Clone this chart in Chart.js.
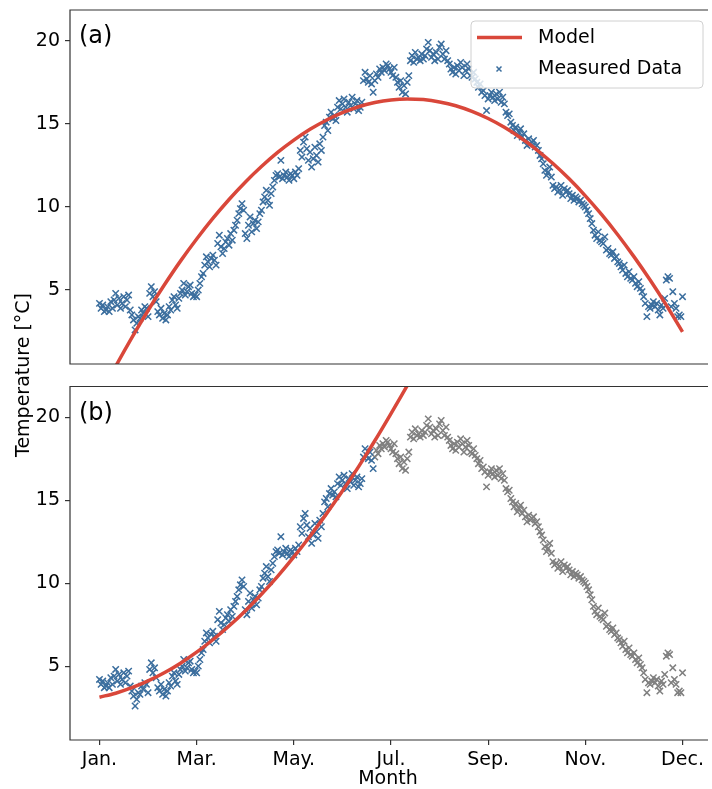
<!DOCTYPE html>
<html>
<head>
<meta charset="utf-8">
<script src="https://cdn.jsdelivr.net/npm/chart.js@4.4.0/dist/chart.umd.min.js"></script>
<style>
  body { margin: 0; background: #fff; }
  #wrap { position: relative; width: 712px; height: 789px; overflow: hidden; }
  #chartA { position: absolute; left: 0; top: 0; }
  #chartB { position: absolute; left: 0; top: 375px; }
  #ylabel {
    position: absolute; left: 22px; top: 375px;
    transform: translate(-50%, -50%) rotate(-90deg);
    font: 19px "DejaVu Sans"; color: #000; white-space: nowrap;
  }
</style>
</head>
<body>
<div id="wrap">
  <canvas id="chartA" width="712" height="375"></canvas>
  <canvas id="chartB" width="712" height="414"></canvas>
  <div id="ylabel">Temperature [°C]</div>
</div>
<script>
// Daily measured temperatures, day 0 .. day 360
const measured = [
  4.2, 3.9, 4.1, 3.7, 3.8, 4.0, 3.7, 4.3, 3.9, 4.4,
  4.8, 4.1, 4.5, 3.9, 4.2, 4.6, 4.0, 4.4, 4.7, 3.8,
  3.5, 3.2, 2.6, 3.0, 3.4, 3.3, 3.8, 3.6, 4.0, 3.9,
  3.4, 4.8, 5.2, 4.6, 4.9, 4.3, 3.7, 3.5, 3.9, 3.3,
  3.6, 3.2, 3.5, 4.0, 3.8, 4.4, 4.6, 4.1, 3.9, 4.5,
  4.8, 5.0, 5.4, 4.7, 4.9, 5.2, 5.3, 4.8, 4.6, 4.7,
  4.6, 5.0, 5.4, 5.8, 6.0, 6.5, 7.0, 6.7, 6.4, 6.9,
  7.1, 6.8, 6.5, 7.8, 8.3, 7.6, 7.2, 7.5, 7.9, 8.1,
  7.7, 8.4, 8.0, 8.6, 8.9, 9.2, 9.6, 9.9, 10.2, 9.8,
  8.4, 8.1, 8.9, 9.4, 8.5, 9.0, 9.2, 8.7, 9.1, 9.6,
  9.8, 10.3, 10.6, 11.0, 10.4, 10.1, 10.8, 11.2, 11.6, 11.9,
  12.0, 11.8, 12.8, 11.7, 11.9, 12.1, 11.8, 11.6, 12.0, 11.9,
  11.7, 12.1, 11.9, 12.3, 13.4, 13.0, 13.9, 14.2, 13.5, 12.8,
  13.3, 12.4, 12.9, 13.6, 13.1, 12.7, 13.8, 13.4, 14.2, 14.9,
  15.1, 14.6, 15.4, 15.7, 15.3, 15.5, 15.2, 16.0, 16.4, 15.9,
  16.2, 16.5, 16.0, 15.7, 16.3, 16.1, 16.6, 15.9, 16.2, 16.4,
  15.8, 16.0, 16.3, 17.6, 18.1, 17.7, 17.5, 17.9, 17.4, 16.9,
  17.6, 18.0, 17.8, 18.3, 18.1, 18.4, 18.2, 18.6, 18.5, 18.3,
  18.1, 17.9, 18.4, 17.8, 17.5, 17.2, 17.6, 16.9, 17.3, 16.8,
  17.5, 17.9, 18.8, 19.1, 18.7, 19.3, 18.9, 19.0, 18.8, 19.2,
  18.9, 19.1, 19.5, 19.9, 19.4, 19.0, 19.2, 18.8, 19.3, 18.9,
  19.6, 19.8, 19.2, 18.9, 19.4, 18.8, 18.6, 18.3, 18.1, 18.4,
  18.0, 18.5, 18.2, 18.7, 18.4, 17.9, 18.2, 18.6, 18.3, 17.9,
  17.8, 18.1, 17.7, 17.5, 17.2, 17.4, 16.9, 17.0, 16.7, 15.8,
  16.5, 16.7, 16.9, 16.6, 16.4, 16.8, 16.5, 16.9, 16.3, 16.6,
  16.2, 15.7, 15.5, 15.6, 15.1, 14.9, 14.6, 14.8, 14.3, 14.5,
  14.7, 14.2, 14.4, 14.0, 13.7, 14.1, 13.8, 13.9, 14.0, 13.6,
  13.7, 13.4, 13.1, 12.9, 12.6, 12.2, 11.9, 12.1, 12.4, 11.8,
  11.3, 11.1, 11.2, 10.9, 11.0, 11.3, 10.7, 11.1, 10.9, 11.0,
  10.8, 10.5, 10.7, 10.4, 10.6, 10.5, 10.3, 10.4, 10.2, 10.1,
  10.0, 9.8, 9.6, 9.3, 9.0, 8.6, 8.3, 8.1, 8.5, 8.0,
  7.9, 7.8, 8.2, 7.4, 7.5, 7.2, 7.1, 7.3, 6.9, 7.0,
  6.7, 6.6, 6.4, 6.2, 6.5, 6.0, 5.8, 6.1, 5.7, 5.6,
  5.8, 5.4, 5.2, 5.5, 5.1, 4.9, 4.6, 4.2, 3.4, 4.0,
  3.9, 4.1, 4.3, 4.0, 4.2, 3.8, 3.5, 4.1, 3.9, 4.5,
  5.6, 5.8, 5.7, 4.0, 4.9, 4.2, 3.9, 3.4, 3.5, 3.4,
  4.6
];

// days used for the fit in panel (b)
const fitEndDay = 170;

const modelDays = [0, 10, 20, 30, 40, 50, 60, 70, 80, 90, 100, 110, 120, 130, 140, 150, 160, 170, 180,
  190, 200, 210, 220, 230, 240, 250, 260, 270, 280, 290, 300, 310, 320, 330, 340, 350, 360];
const modelA = [-1.41, 0.41, 2.14, 3.77, 5.30, 6.74, 8.07, 9.31, 10.45, 11.49, 12.43, 13.28, 14.02, 14.67,
  15.22, 15.67, 16.03, 16.28, 16.44, 16.50, 16.46, 16.32, 16.09, 15.75, 15.32, 14.79, 14.16, 13.44,
  12.61, 11.69, 10.67, 9.55, 8.33, 7.01, 5.60, 4.09, 2.48];
const modelBDays = [0, 10, 20, 30, 40, 50, 60, 70, 80, 90, 100, 110, 120, 130, 140, 150, 160, 170, 180, 190, 200];
const modelB = [3.13, 3.37, 3.70, 4.11, 4.60, 5.18, 5.84, 6.59, 7.42, 8.33, 9.33, 10.41, 11.58, 12.83,
  14.16, 15.55, 17.02, 18.58, 20.22, 21.90, 23.65];

// axes
const tickDays = [0, 60, 120, 180, 240, 300, 360];
const tickLabels = ['Jan.', 'Mar.', 'May.', 'Jul.', 'Sep.', 'Nov.', 'Dec.'];
const yTicks = [5, 10, 15, 20];

const blue = '#3b6e9e';
const red = '#d9473a';
const grey = '#808080';
const font = 'DejaVu Sans';

Chart.defaults.font.family = font;
Chart.defaults.animation = false;

const pts = (xs, ys) => xs.map((x, i) => ({ x: x, y: ys[i] }));
const allPts = measured.map((v, d) => ({ x: d, y: v }));

function frame(letter) {
  return {
    id: 'frame' + letter,
    afterDatasetsDraw(chart) {
      const { ctx, chartArea: a } = chart;
      ctx.save();
      ctx.strokeStyle = '#333';
      ctx.lineWidth = 1.2;
      ctx.beginPath();
      ctx.moveTo(a.right + 2, a.top);
      ctx.lineTo(a.left, a.top);
      ctx.lineTo(a.left, a.bottom);
      ctx.lineTo(a.right + 2, a.bottom);
      ctx.stroke();
      ctx.fillStyle = '#000';
      ctx.font = '24px "' + font + '"';
      ctx.textBaseline = 'middle';
      ctx.fillText(letter, a.left + 9, a.top + 27);
      ctx.restore();
    }
  };
}

const legendBox = {
  id: 'legendBox',
  afterDraw(chart) {
    const ctx = chart.ctx;
    ctx.save();
    ctx.beginPath();
    ctx.roundRect(471, 21, 232, 67, 4);
    ctx.fillStyle = 'rgba(255,255,255,0.8)';
    ctx.fill();
    ctx.strokeStyle = '#d0d0d0';
    ctx.lineWidth = 1;
    ctx.stroke();
    ctx.strokeStyle = red;
    ctx.lineWidth = 3.5;
    ctx.beginPath();
    ctx.moveTo(477, 37.5);
    ctx.lineTo(522, 37.5);
    ctx.stroke();
    ctx.strokeStyle = blue;
    ctx.lineWidth = 1.5;
    ctx.beginPath();
    ctx.moveTo(496.5, 66.5); ctx.lineTo(501.5, 71.5);
    ctx.moveTo(501.5, 66.5); ctx.lineTo(496.5, 71.5);
    ctx.stroke();
    ctx.fillStyle = '#000';
    ctx.font = '19px "' + font + '"';
    ctx.textBaseline = 'middle';
    ctx.fillText('Model', 538, 38);
    ctx.fillText('Measured Data', 538, 69);
    ctx.restore();
  }
};

function yScale() {
  return {
    min: 0.55, max: 21.85,
    afterBuildTicks: s => { s.ticks = yTicks.map(v => ({ value: v })); },
    afterFit: s => { s.width = 70; s.paddingTop = 0; s.paddingBottom = 0; },
    grid: { drawOnChartArea: false, tickLength: 5, color: '#333', lineWidth: 1.2 },
    border: { display: false },
    ticks: { padding: 5, color: '#000', font: { size: 19 } }
  };
}

function xScale(show) {
  return {
    type: 'linear', min: -18.2, max: 374.5,
    display: show,
    afterBuildTicks: s => { s.ticks = tickDays.map(v => ({ value: v })); },
    afterFit: s => {
      s.height = show ? 49 : 0;
      s.paddingLeft = 0; s.paddingRight = 0;
    },
    grid: { drawOnChartArea: false, tickLength: 5, color: '#333', lineWidth: 1.2 },
    border: { display: false },
    ticks: {
      autoSkip: false, maxRotation: 0, padding: 4, color: '#000', font: { size: 19 },
      callback: v => tickLabels[tickDays.indexOf(v)]
    },
    title: {
      display: show, text: 'Month', color: '#000',
      font: { size: 19, lineHeight: 1.0 }, padding: { top: 0, bottom: 0.5 }
    }
  };
}

const markerStyle = {
  pointStyle: 'crossRot', pointRadius: 4.5, pointBorderWidth: 1.5, pointHoverRadius: 4.5
};

// Panel (a): model fitted over the whole year
new Chart(document.getElementById('chartA'), {
  type: 'scatter',
  data: {
    datasets: [
      {
        label: 'Model', data: pts(modelDays, modelA), showLine: true,
        borderColor: red, borderWidth: 3.5, pointRadius: 0, cubicInterpolationMode: 'monotone', clip: 0
      },
      Object.assign({ label: 'Measured Data', data: allPts, borderColor: blue, backgroundColor: blue }, markerStyle)
    ]
  },
  options: {
    responsive: false, devicePixelRatio: 1,
    layout: { padding: { left: 0, right: 0, top: 10, bottom: 11 } },
    plugins: { legend: { display: false }, tooltip: { enabled: false } },
    scales: { x: xScale(false), y: yScale() }
  },
  plugins: [frame('(a)'), legendBox]
});

// Panel (b): model fitted to the first half only
new Chart(document.getElementById('chartB'), {
  type: 'scatter',
  data: {
    datasets: [
      {
        label: 'Model', data: pts(modelBDays, modelB), showLine: true,
        borderColor: red, borderWidth: 3.5, pointRadius: 0, cubicInterpolationMode: 'monotone', clip: 0
      },
      Object.assign({ label: 'Fit data', data: allPts.slice(0, fitEndDay), borderColor: blue, backgroundColor: blue }, markerStyle),
      Object.assign({ label: 'Other data', data: allPts.slice(fitEndDay), borderColor: grey, backgroundColor: grey }, markerStyle)
    ]
  },
  options: {
    responsive: false, devicePixelRatio: 1,
    layout: { padding: { left: 0, right: 0, top: 11.5, bottom: 0 } },
    plugins: { legend: { display: false }, tooltip: { enabled: false } },
    scales: { x: xScale(true), y: yScale() }
  },
  plugins: [frame('(b)')]
});
</script>
</body>
</html>
